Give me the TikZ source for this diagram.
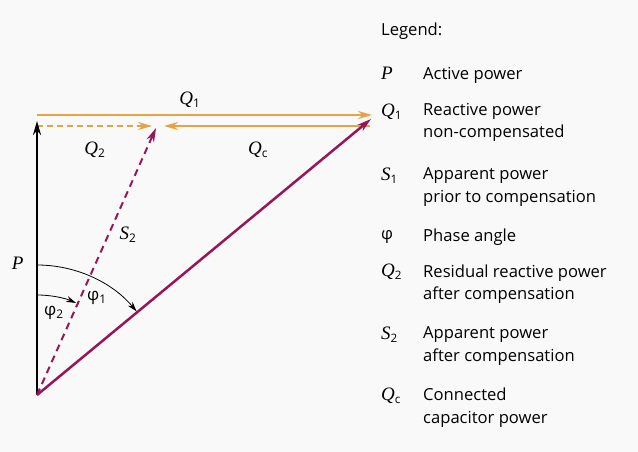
\documentclass[tikz,border=0pt]{standalone}
\usepackage{fontspec}
\setmainfont{Open Sans}
\newfontfamily\symfont{Liberation Serif}
\usetikzlibrary{arrows.meta}
\definecolor{qorange}{RGB}{232,162,70}
\definecolor{spurple}{RGB}{150,22,88}
\definecolor{bgray}{RGB}{249,249,249}
\newcommand{\sym}[2]{{\symfont\itshape\fontsize{19}{22}\selectfont #1}\textsubscript{#2}}

\begin{document}
\begin{tikzpicture}[x=1pt,y=1pt,
    bigtip/.style={-{Stealth[length=14pt,width=8pt]}},
    smalltip/.style={-{Stealth[length=10pt,width=6pt]}},
    lbl/.style={font=\fontsize{17}{20}\selectfont, inner sep=0pt},
    leg/.style={font=\fontsize{16.6}{22.5}\selectfont, align=left, anchor=west, inner sep=0pt}]
    % background
    \fill[bgray] (0,0) rectangle (638,452);
    \useasboundingbox (0,0) rectangle (638,452);

    % points
    \coordinate (O) at (37,57);
    \coordinate (Ptop) at (37,331);
    \coordinate (Q1a) at (37,337);
    \coordinate (Q1b) at (372,337);
    \coordinate (Qca) at (370,326);
    \coordinate (Qcb) at (164,326);
    \coordinate (Q2a) at (37,326);
    \coordinate (Q2b) at (152,326);
    \coordinate (S2) at (156,324);
    \coordinate (S1) at (371,333);
    \coordinate (A1) at (37,187);
    \coordinate (A2) at (37,157);

    % reactive powers
    \draw[qorange, line width=2pt, bigtip] (Q1a) -- (Q1b);
    \draw[qorange, line width=1.8pt, bigtip] (Qca) -- (Qcb);
    \draw[qorange, line width=1.8pt, dash pattern=on 6pt off 4pt, bigtip] (Q2a) -- (Q2b);

    % active power
    \draw[black, line width=2.8pt, bigtip] (O) -- (Ptop);

    % apparent powers
    \draw[spurple, line width=2.5pt, bigtip] (O) -- (S1);
    \draw[spurple, line width=2pt, dash pattern=on 7pt off 5pt, bigtip] (O) -- (S2);

    % angles
    \draw[line width=0.8pt, smalltip] (A1) arc[start angle=90, end angle=40, radius=130];
    \draw[line width=0.8pt, smalltip] (A2) arc[start angle=90, end angle=67, radius=100];

    % labels
    \node[lbl] (lP) at (18,187) {\sym{P}{}};
    \node[lbl] (lQ1) at (190,352) {\sym{Q}{1}};
    \node[lbl] (lQ2) at (95,302) {\sym{Q}{2}};
    \node[lbl] (lQc) at (258,302) {\sym{Q}{c}};
    \node[lbl] (lS2) at (128,217) {\sym{S}{2}};
    \node[lbl] (lphi1) at (97,154) {φ\textsubscript{1}};
    \node[lbl] (lphi2) at (54,139) {φ\textsubscript{2}};

    % legend
    \node[leg] (legtitle) at (381,421) {Legend:};
    \node[leg] (kP) at (381,377) {\sym{P}{}};
    \node[leg] (tP) at (423,377) {Active power};
    \node[leg] (kQ1) at (381,340) {\sym{Q}{1}};
    \node[leg] (tQ1) at (423,329.5) {Reactive power\\non-compensated};
    \node[leg] (kS1) at (381,276) {\sym{S}{1}};
    \node[leg] (tS1) at (423,265) {Apparent power\\prior to compensation};
    \node[leg] (kphi) at (381,215) {φ};
    \node[leg] (tphi) at (423,215) {Phase angle};
    \node[leg] (kQ2) at (381,180) {\sym{Q}{2}};
    \node[leg] (tQ2) at (423,168) {Residual reactive power\\after compensation};
    \node[leg] (kS2) at (381,117) {\sym{S}{2}};
    \node[leg] (tS2) at (423,106) {Apparent power\\after compensation};
    \node[leg] (kQc) at (381,56) {\sym{Q}{c}};
    \node[leg] (tQc) at (423,44.5) {Connected\\capacitor power};
\end{tikzpicture}
\end{document}
